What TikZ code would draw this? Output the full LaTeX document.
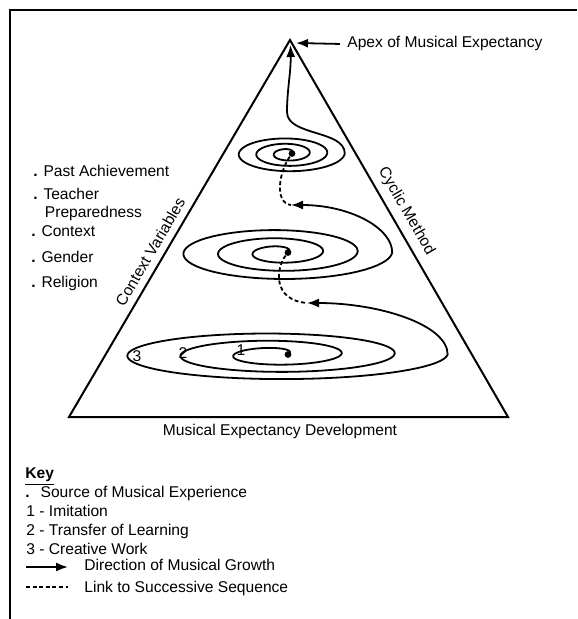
\documentclass[tikz,border=0pt]{standalone}
\usepackage{fontspec}
\setmainfont{Liberation Sans}
\usetikzlibrary{arrows.meta}
\newcommand{\cvdot}{\textbf{.}\hspace{0.37em}}
\tikzset{
  >=Latex,
  every node/.style={font=\fontsize{7.8}{9.4}\selectfont},
  txt/.style={anchor=base west, inner sep=0pt},
  side/.style={line width=1pt},
  growth/.style={line width=0.9pt, -{Latex[length=6pt,width=4.5pt]}},
  link/.style={line width=0.9pt, dash pattern=on 2pt off 1.3pt},
  src/.style={circle, fill, inner sep=0pt, minimum size=3.4pt},
  digit/.style={anchor=base, inner sep=0pt}
}

\begin{document}
\begin{tikzpicture}[x=0.5pt, y=-0.5pt]
  \useasboundingbox (0,0) rectangle (577,619);
  % frame
  \draw[side] (577,10) -- (10,10) -- (10,619);

  % pyramid
  \coordinate (apex) at (290,40);
  \coordinate (baseR) at (508,417);
  \coordinate (baseL) at (69,417);
  \draw[side] (apex) -- node[sloped, above, pos=0.474] {Cyclic Method} (baseR)
    -- (baseL) -- node[sloped, above, pos=0.42] {Context Variables} cycle;
  \node[anchor=base] (medev) at (280,435) {Musical Expectancy Development};

  % apex label
  \node[txt, inner xsep=3.5pt] (apexlbl) at (340,48) {Apex of Musical Expectancy};
  \coordinate (apexpt) at (296,43);
  \draw[growth] (apexlbl.west) -- (apexpt);

  % sources of musical experience
  \node[src] (srcT) at (292,153.5) {};
  \node[src] (srcM) at (288,252.5) {};
  \node[src] (srcB) at (288,354.5) {};
  \coordinate (tipT) at (290.5,45);
  \coordinate (tipM) at (291,205);
  \coordinate (tipB) at (307,303);

  % spirals of growth
  \draw[growth] plot[domain=0:6*pi, samples=200, variable=\t]
    ({287.4+(4.6+2.8*\t)*cos(\t r)}, {153.5-(3+0.85*\t)*sin(\t r)})
    .. controls (344.8,130) and (287,136) .. (287,112)
    .. controls (287,90) and (291,72) .. (tipT);
  \draw[growth] plot[domain=0:6*pi, samples=200, variable=\t]
    ({279.2+(8.8+5.53*\t)*cos(\t r)}, {252.5-(4+1.3*\t)*sin(\t r)})
    .. controls (392.2,228) and (350,205) .. (tipM);
  \draw[growth] plot[domain=0:6*pi, samples=240, variable=\t]
    ({274.3+(13.7+8.47*\t)*cos(\t r)}, {354.5-(4.7+1.15*\t)*sin(\t r)})
    .. controls (447.7,325) and (380,303) .. (tipB);

  % links to successive sequence
  \draw[link] (srcT) .. controls (279,172) and (274,203) .. (tipM);
  \draw[link] (srcM) .. controls (276,268) and (272,300) .. (tipB);

  % stages
  \node[digit] (st1) at (241,355) {1};
  \node[digit] (st2) at (183,358) {2};
  \node[digit] (st3) at (137,361) {3};

  % context variables
  \node[txt] (cv1) at (33,177) {\cvdot Past Achievement};
  \node[txt] (cv2) at (33,200) {\cvdot Teacher};
  \node[txt] (cv2b) at (44.5,218) {Preparedness};
  \node[txt] (cv3) at (31,237) {\cvdot Context};
  \node[txt] (cv4) at (31,263) {\cvdot Gender};
  \node[txt] (cv5) at (31,288) {\cvdot Religion};

  % key
  \node[txt] (key) at (25,478) {\underline{\textbf{Key}}};
  \node[txt] (k0) at (25,497) {\textbf{.}\hspace{0.7em}Source of Musical Experience};
  \node[txt] (k1) at (26,516) {1 - Imitation};
  \node[txt] (k2) at (26,535) {2 - Transfer of Learning};
  \node[txt] (k3) at (26,554) {3 - Creative Work};
  \node[txt] (k4) at (84,570) {Direction of Musical Growth};
  \node[txt] (k5) at (84,592) {Link to Successive Sequence};
  \coordinate (k4a) at (26,567);
  \coordinate (k4b) at (68,567);
  \coordinate (k5a) at (26,587);
  \coordinate (k5b) at (68,587);
  \draw[growth] (k4a) -- (k4b);
  \draw[link, line width=0.7pt] (k5a) -- (k5b);
\end{tikzpicture}
\end{document}
